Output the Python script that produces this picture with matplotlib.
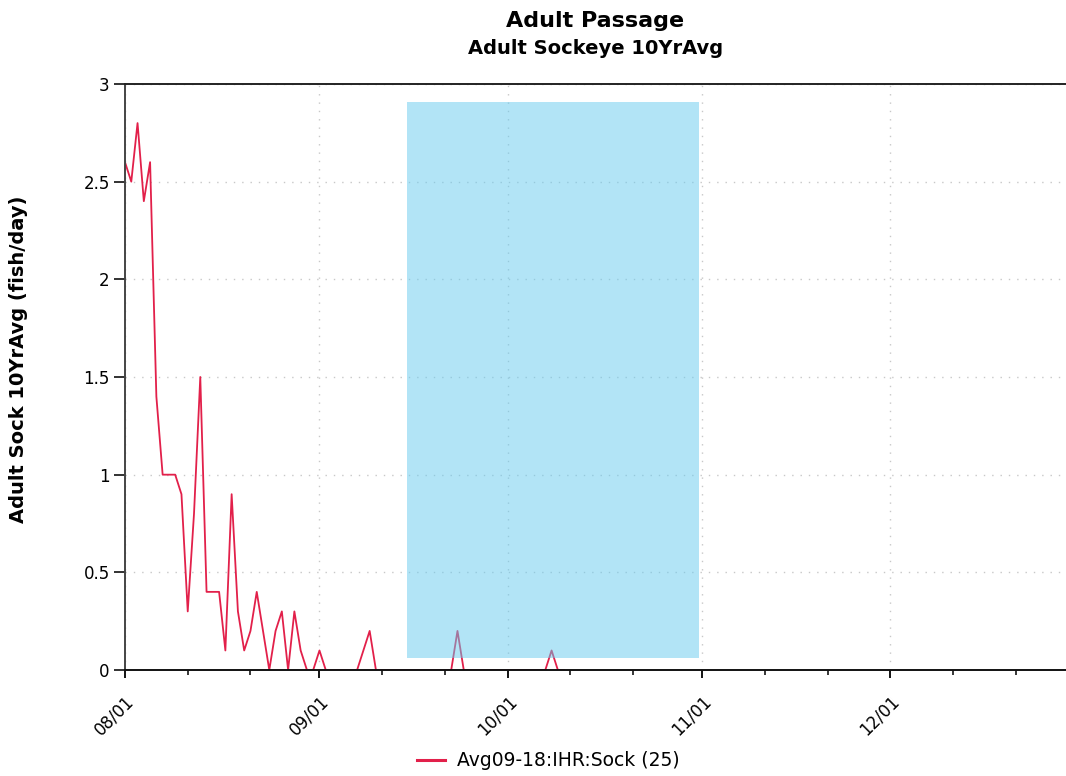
import matplotlib
matplotlib.use("Agg")
import matplotlib.pyplot as plt
import matplotlib.dates as mdates
import pandas as pd

# ---- data ----
start_date = "2023-08-01"
values = [2.6, 2.5, 2.8, 2.4, 2.6, 1.4, 1.0, 1.0, 1.0, 0.9,
          0.3, 0.8, 1.5, 0.4, 0.4, 0.4, 0.1, 0.9, 0.3, 0.1,
          0.2, 0.4, 0.2, 0.0, 0.2, 0.3, 0.0, 0.3, 0.1, 0.0,
          0.0, 0.1, 0.0, 0.0, 0.0, 0.0, 0.0, 0.0, 0.1, 0.2,
          0.0, 0.0, 0.0, 0.0, 0.0, 0.0, 0.0, 0.0, 0.0, 0.0,
          0.0, 0.0, 0.0, 0.2, 0.0, 0.0, 0.0, 0.0, 0.0, 0.0,
          0.0, 0.0, 0.0, 0.0, 0.0, 0.0, 0.0, 0.0, 0.1, 0.0,
          0.0]
series_label = "Avg09-18:IHR:Sock (25)"
shade_start = "2023-09-15"
shade_end = "2023-10-31 12:00"
x_start = "2023-08-01"
x_end = "2023-12-29"
y_ticks = [0, 0.5, 1, 1.5, 2, 2.5, 3]
y_tick_labels = ["0", "0.5", "1", "1.5", "2", "2.5", "3"]
title = "Adult Passage"
subtitle = "Adult Sockeye 10YrAvg"
ylabel = "Adult Sock 10YrAvg (fish/day)"

dates = pd.date_range(start_date, periods=len(values), freq="D")

plt.rcParams['font.family'] = ['DejaVu Sans']

W, H = 1066, 776
fig = plt.figure(figsize=(W / 100, H / 100), dpi=100)
ax = fig.add_axes([125 / W, 1 - 670 / H, 1 - 125 / W, (670 - 84) / H])

ax.plot(dates, values, color="#e2204a", lw=1.3, zorder=2, label=series_label)
ax.axvspan(pd.Timestamp(shade_start), pd.Timestamp(shade_end), ymin=0.02, ymax=0.97,
           color="#67cbef", alpha=0.5, lw=0, zorder=3)

ax.set_xlim(pd.Timestamp(x_start), pd.Timestamp(x_end))
ax.set_ylim(0, 3)

ax.xaxis.set_major_locator(mdates.MonthLocator(bymonthday=1))
ax.xaxis.set_major_formatter(mdates.DateFormatter("%m/%d"))
ax.xaxis.set_minor_locator(mdates.DayLocator(bymonthday=[11, 21]))
ax.set_yticks(y_ticks)
ax.set_yticklabels(y_tick_labels)

for lbl in ax.get_xticklabels():
    lbl.set_rotation(45)
    lbl.set_ha("right")
    lbl.set_va("top")
    lbl.set_rotation_mode("anchor")

ax.tick_params(axis="y", length=8, width=1.3, labelsize=12, pad=3, color="#222222")
ax.tick_params(axis="x", which="major", length=6, width=1.3, labelsize=12, pad=10)
ax.tick_params(axis="x", which="minor", length=3.5, width=1.1)

ax.grid(True, which="major", axis="both", color="#c8c8c8", lw=1.0,
        linestyle=(0, (1, 5)), zorder=1)

for side in ["left", "bottom", "top"]:
    ax.spines[side].set_linewidth(1.4)
ax.spines["left"].set_color("#444444")
ax.spines["bottom"].set_color("#111111")
ax.spines["top"].set_color("#222222")
ax.spines["right"].set_visible(False)

ax.set_ylabel(ylabel, fontsize=14, fontweight="bold")
ax.yaxis.set_label_coords((28 - 125) / 941, 0.53)

cx = (125 + 1066) / 2 / W
fig.text(cx, 1 - 21 / H, title, ha="center", va="center", fontsize=16, fontweight="bold")
fig.text(cx, 1 - 48 / H, subtitle, ha="center", va="center", fontsize=14, fontweight="bold")

fig.legend(loc="center", bbox_to_anchor=(548 / W, 1 - 761 / H), frameon=False,
           fontsize=13.5, handlelength=1.5, handletextpad=0.65)
for l in fig.legends[0].get_lines():
    l.set_linewidth(2.2)

fig.savefig("out.png", dpi=100)
